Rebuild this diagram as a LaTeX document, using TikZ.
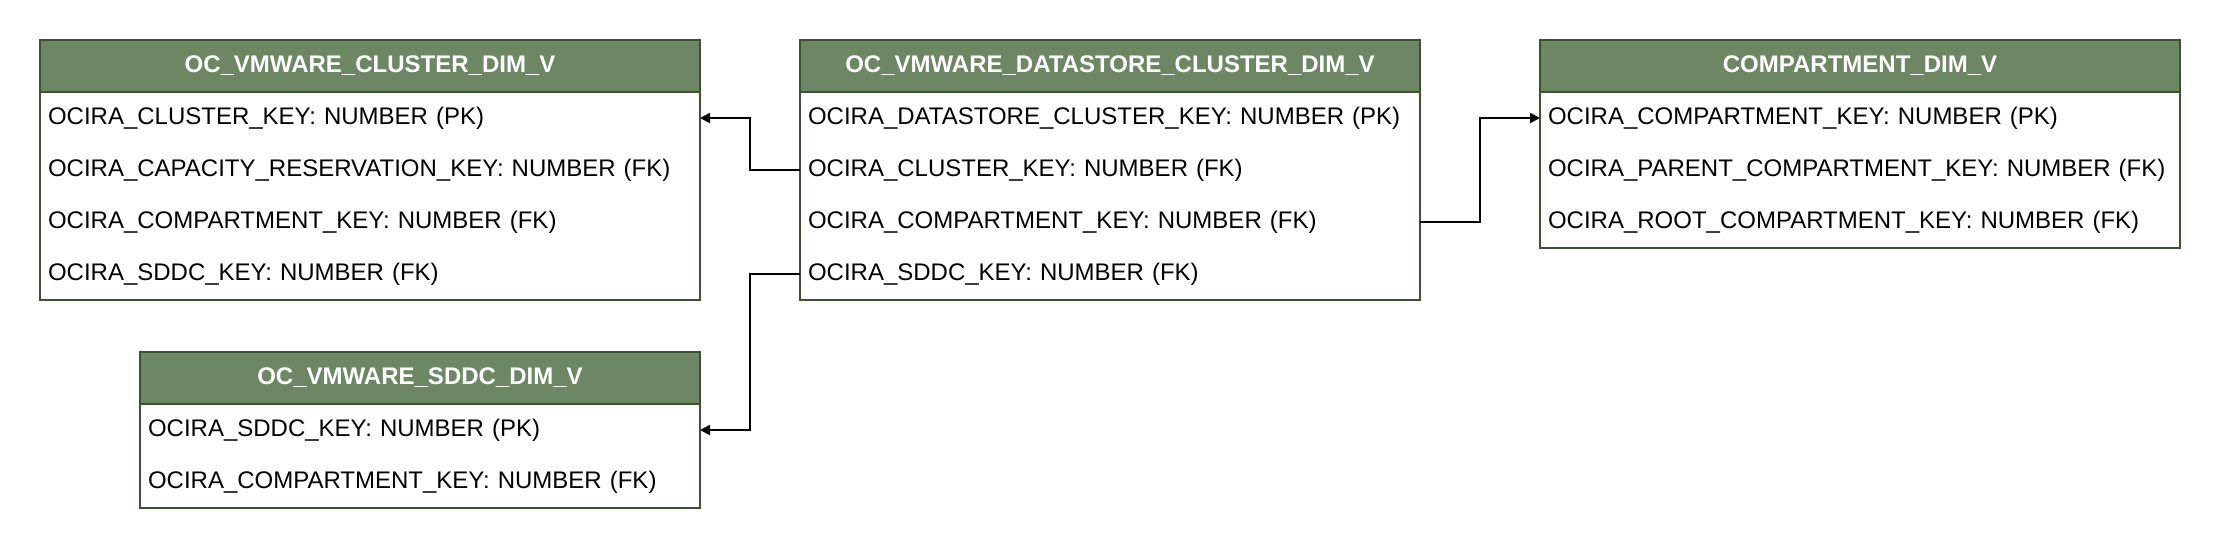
\documentclass[tikz,border=0pt]{standalone}
\usepackage{fontspec}
\setmainfont{Liberation Sans}
\usetikzlibrary{positioning,arrows.meta}
\definecolor{headgreen}{RGB}{109,135,100}
\definecolor{edgegreen}{RGB}{58,84,49}

\begin{document}
\begin{tikzpicture}[x=1pt,y=-1pt,
    every node/.style={outer sep=0pt,font=\fontsize{12}{14}\selectfont},
    head/.style={draw=edgegreen,fill=headgreen,line width=1pt,text=white,font=\fontsize{12}{14}\selectfont\bfseries,minimum width=#1,minimum height=26pt,inner sep=0pt,anchor=north west},
    field/.style={text width=#1,inner xsep=4pt,inner ysep=0pt,minimum height=26pt,align=left},
    body/.style={draw=edgegreen,line width=1pt},
    fk/.style={line width=1pt,-{Triangle[length=5pt,width=5pt]}}]
            \useasboundingbox (0,0) rectangle (1110,274);
            % tables
            \node[head=330pt] (clu0) at (20,20) {OC\_VMWARE\_CLUSTER\_DIM\_V};
            \foreach \t [count=\i, remember=\i as \j (initially 0)] in {OCIRA\_CLUSTER\_KEY: NUMBER (PK),OCIRA\_CAPACITY\_RESERVATION\_KEY: NUMBER (FK),OCIRA\_COMPARTMENT\_KEY: NUMBER (FK),OCIRA\_SDDC\_KEY: NUMBER (FK)}
                \node[field=322pt,below=0pt of clu\j] (clu\i) {\t};
            \draw[body] (clu0.south west) rectangle (clu4.south east);
            \node[head=310pt] (ds0) at (400,20) {OC\_VMWARE\_DATASTORE\_CLUSTER\_DIM\_V};
            \foreach \t [count=\i, remember=\i as \j (initially 0)] in {OCIRA\_DATASTORE\_CLUSTER\_KEY: NUMBER (PK),OCIRA\_CLUSTER\_KEY: NUMBER (FK),OCIRA\_COMPARTMENT\_KEY: NUMBER (FK),OCIRA\_SDDC\_KEY: NUMBER (FK)}
                \node[field=302pt,below=0pt of ds\j] (ds\i) {\t};
            \draw[body] (ds0.south west) rectangle (ds4.south east);
            \node[head=320pt] (cmp0) at (770,20) {COMPARTMENT\_DIM\_V};
            \foreach \t [count=\i, remember=\i as \j (initially 0)] in {OCIRA\_COMPARTMENT\_KEY: NUMBER (PK),OCIRA\_PARENT\_COMPARTMENT\_KEY: NUMBER (FK),OCIRA\_ROOT\_COMPARTMENT\_KEY: NUMBER (FK)}
                \node[field=312pt,below=0pt of cmp\j] (cmp\i) {\t};
            \draw[body] (cmp0.south west) rectangle (cmp3.south east);
            \node[head=280pt] (sd0) at (70,176) {OC\_VMWARE\_SDDC\_DIM\_V};
            \foreach \t [count=\i, remember=\i as \j (initially 0)] in {OCIRA\_SDDC\_KEY: NUMBER (PK),OCIRA\_COMPARTMENT\_KEY: NUMBER (FK)}
                \node[field=272pt,below=0pt of sd\j] (sd\i) {\t};
            \draw[body] (sd0.south west) rectangle (sd2.south east);
            % keys
            \draw[fk] (ds2.west) -- ++(-25,0) |- (clu1.east);
            \draw[fk] (ds4.west) -- ++(-25,0) |- (sd1.east);
            \draw[fk] (ds3.east) -- ++(30,0) |- (cmp1.west);
        \end{tikzpicture}
\end{document}
